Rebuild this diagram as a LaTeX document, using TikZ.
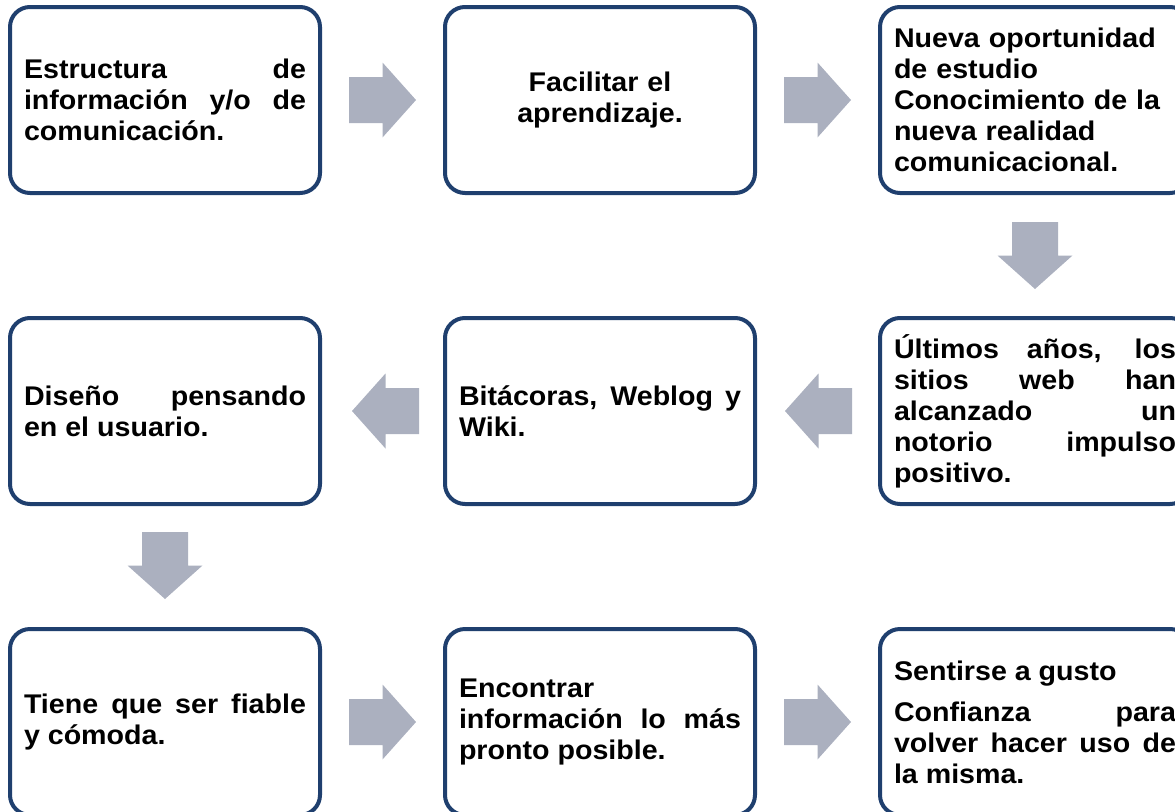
\documentclass[tikz,border=0pt]{standalone}
\usepackage{fontspec}
\setmainfont{Liberation Sans}[FakeStretch=1.06]
\usetikzlibrary{positioning,calc}
\definecolor{cajaazul}{RGB}{31,63,110}
\definecolor{flechagris}{RGB}{171,176,191}
\tolerance=10000
\hbadness=10000

\begin{document}
\begin{tikzpicture}[x=1pt,y=-1pt,
		caja/.style={draw=cajaazul, line width=4pt, rounded corners=20pt, fill=white,
			minimum width=310pt, minimum height=186pt, text width=282pt, inner xsep=14pt,
			align=justify, font=\fontsize{27}{31}\selectfont\bfseries}]
		\path[use as bounding box, clip] (0,0) rectangle (1175,811);
		
		% fila 1
		\node[caja] (c1) at (165,100) {Estructura de\linebreak información y/o de\linebreak comunicación.};
		\node[caja, align=center, right=121pt of c1] (c2) {Facilitar el\\aprendizaje.};
		\node[caja, align=left, right=121pt of c2] (c3) {Nueva oportunidad\\de estudio\\Conocimiento de la\\nueva realidad\\comunicacional.};
		
		% fila 2
		\node[caja, below=121pt of c3] (c4) {Últimos años, los\linebreak sitios web han\linebreak alcanzado un\linebreak notorio impulso\linebreak positivo.};
		\node[caja, left=121pt of c4] (c5) {Bitácoras, Weblog y\linebreak Wiki.};
		\node[caja, left=121pt of c5] (c6) {Diseño pensando\linebreak en el usuario.};
		
		% fila 3
		\node[caja, below=121pt of c6] (c7) {Tiene que ser fiable\linebreak y cómoda.};
		\node[caja, right=121pt of c7] (c8) {Encontrar\\información lo más\linebreak pronto posible.};
		\node[caja, right=121pt of c8] (c9) {Sentirse a gusto\\[10pt]Confianza para\linebreak volver hacer uso de\linebreak la misma.};
		
		% flechas
		\coordinate (f12) at ($(c1.east)!0.5!(c2.west)$);
		\coordinate (f23) at ($(c2.east)!0.5!(c3.west)$);
		\coordinate (f34) at ($(c3.south)!0.5!(c4.north)$);
		\coordinate (f45) at ($(c4.west)!0.5!(c5.east)+(1,0)$);
		\coordinate (f56) at ($(c5.west)!0.5!(c6.east)+(3,0)$);
		\coordinate (f67) at ($(c6.south)!0.5!(c7.north)+(0,-1)$);
		\coordinate (f78) at ($(c7.east)!0.5!(c8.west)$);
		\coordinate (f89) at ($(c8.east)!0.5!(c9.west)$);
		\foreach \f/\r in {f12/0, f23/0, f34/-90, f45/180, f56/180, f67/-90, f78/0, f89/0}
		{
			\fill[flechagris, shift={(\f)}, rotate=\r] (-33.5,-23) -- (0,-23) -- (0,-37.5) -- (33.5,0)
			-- (0,37.5) -- (0,23) -- (-33.5,23) -- cycle;
		}
\end{tikzpicture}
\end{document}
